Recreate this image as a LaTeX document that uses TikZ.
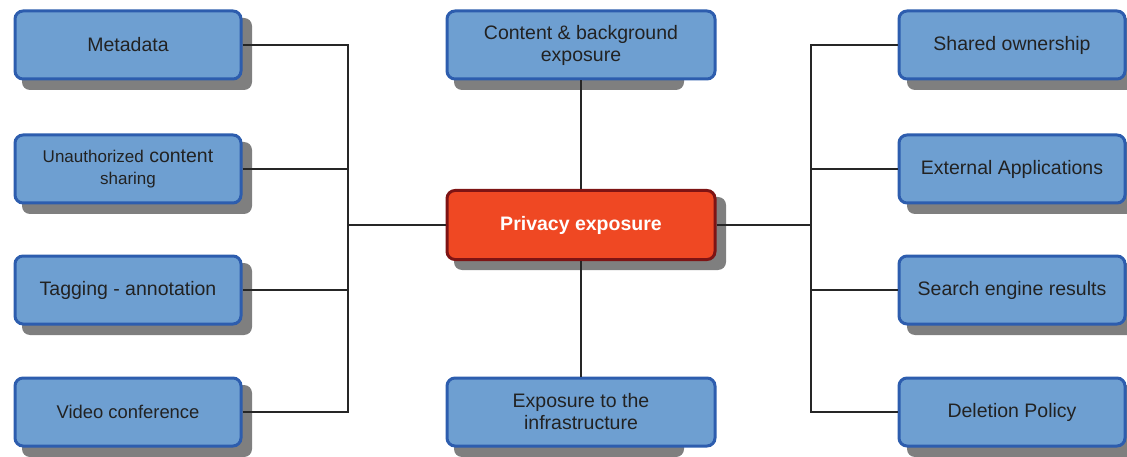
\documentclass[tikz,border=0pt]{standalone}
\usepackage{fontspec}
\setmainfont{Liberation Sans}
\definecolor{boxfill}{HTML}{6E9FD1}
\definecolor{boxline}{HTML}{2D5DAE}
\definecolor{redfill}{HTML}{EF4823}
\definecolor{redline}{HTML}{7E1414}
\definecolor{shade}{HTML}{7F7F7F}
\definecolor{txt}{HTML}{222222}
\begin{document}
\begin{tikzpicture}[x=1pt,y=-1pt,
  sbox/.style={draw=boxline, fill=boxfill, line width=3pt, rounded corners=8pt,
    minimum width=226pt, minimum height=68pt, align=center, text=txt,
    font=\fontsize{19.5}{22}\selectfont, inner sep=2pt},
  cbox/.style={draw=redline, fill=redfill, line width=3pt, rounded corners=8pt,
    minimum width=268pt, minimum height=69pt, align=center, text=white,
    font=\fontsize{19.5}{22}\selectfont\bfseries},
  shadowbox/.style={fill=shade, rounded corners=8pt},
  link/.style={draw=black!85, line width=1.3pt}]
\useasboundingbox (0,0) rectangle (1127,457);
\begin{scope}
\clip (0,0) rectangle (1127,457);
% shadows
\foreach \x/\y in {22/18, 22/142, 22/263, 22/385, 454/18, 454/385, 907/18, 907/142, 907/263, 907/385}
  \fill[shadowbox] (\x,\y) rectangle ++(230,72);
\fill[shadowbox] (454,197) rectangle ++(272,73);
% nodes
\node[sbox] (m) at (128,45) {Metadata};
\node[sbox] (u) at (128,169) {{\fontsize{17}{22}\selectfont Unauthorized} content\\{\fontsize{17}{22}\selectfont sharing}};
\node[sbox] (t) at (128,290) {Tagging - annotation};
\node[sbox] (v) at (128,412) {{\fontsize{18.4}{22}\selectfont Video conference}};
\node[sbox, minimum width=268pt] (c) at (581,45) {Content \& background\\exposure};
\node[sbox, minimum width=268pt] (e) at (581,412) {Exposure to the\\infrastructure};
\node[sbox] (s) at (1012,45) {Shared ownership};
\node[sbox] (x) at (1012,169) {External Applications};
\node[sbox] (r) at (1012,290) {Search engine results};
\node[sbox] (d) at (1012,412) {Deletion Policy};
\node[cbox] (p) at (581,225) {Privacy exposure};
\end{scope}
\coordinate (lb) at (348,225);
\coordinate (rb) at (811,225);
% connectors
\draw[link] (p.west) -- (lb);
\draw[link] (p.east) -- (rb);
\draw[link] (p.north) -- (c.south);
\draw[link] (p.south) -- (e.north);
\draw[link] (m.east) -| (lb);
\draw[link] (u.east) -| (lb);
\draw[link] (t.east) -| (lb);
\draw[link] (v.east) -| (lb);
\draw[link] (s.west) -| (rb);
\draw[link] (x.west) -| (rb);
\draw[link] (r.west) -| (rb);
\draw[link] (d.west) -| (rb);
\end{tikzpicture}
\end{document}
